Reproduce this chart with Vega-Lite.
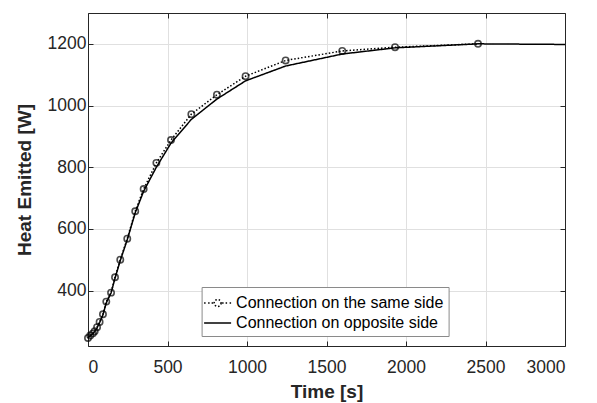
{
  "$schema": "https://vega.github.io/schema/vega-lite/v6.json",
  "width": 477,
  "height": 333,
  "autosize": "none",
  "padding": {"left": 88, "top": 13, "right": 32, "bottom": 57},
  "background": "white",
  "config": {
    "view": {"stroke": null},
    "font": "Liberation Sans",
    "axis": {
      "domainColor": "#262626",
      "domainWidth": 1,
      "tickColor": "#262626",
      "tickSize": -5,
      "tickWidth": 1,
      "gridColor": "#e0e0e0",
      "gridWidth": 1,
      "labelColor": "#262626",
      "labelFont": "Liberation Sans",
      "labelFontSize": 17.5,
      "titleColor": "#262626",
      "titleFont": "Liberation Sans",
      "titleFontSize": 19,
      "titleFontWeight": "bold",
      "format": "d"
    }
  },
  "data": {
    "values": [
      {"t": 0, "q": 246, "series": "Connection on the same side"},
      {"t": 14, "q": 254, "series": "Connection on the same side"},
      {"t": 31, "q": 261, "series": "Connection on the same side"},
      {"t": 42, "q": 268, "series": "Connection on the same side"},
      {"t": 57, "q": 281, "series": "Connection on the same side"},
      {"t": 73, "q": 298, "series": "Connection on the same side"},
      {"t": 94, "q": 323, "series": "Connection on the same side"},
      {"t": 115, "q": 364, "series": "Connection on the same side"},
      {"t": 145, "q": 393, "series": "Connection on the same side"},
      {"t": 170, "q": 443, "series": "Connection on the same side"},
      {"t": 203, "q": 500, "series": "Connection on the same side"},
      {"t": 247, "q": 568, "series": "Connection on the same side"},
      {"t": 297, "q": 657, "series": "Connection on the same side"},
      {"t": 350, "q": 729, "series": "Connection on the same side"},
      {"t": 430, "q": 814, "series": "Connection on the same side"},
      {"t": 522, "q": 888, "series": "Connection on the same side"},
      {"t": 650, "q": 972, "series": "Connection on the same side"},
      {"t": 811, "q": 1035, "series": "Connection on the same side"},
      {"t": 991, "q": 1095, "series": "Connection on the same side"},
      {"t": 1243, "q": 1146, "series": "Connection on the same side"},
      {"t": 1599, "q": 1177, "series": "Connection on the same side"},
      {"t": 1931, "q": 1189, "series": "Connection on the same side"},
      {"t": 2453, "q": 1200, "series": "Connection on the same side"},
      {"t": 0, "q": 246, "series": "Connection on opposite side"},
      {"t": 14, "q": 253, "series": "Connection on opposite side"},
      {"t": 31, "q": 260, "series": "Connection on opposite side"},
      {"t": 42, "q": 267, "series": "Connection on opposite side"},
      {"t": 57, "q": 279, "series": "Connection on opposite side"},
      {"t": 73, "q": 296, "series": "Connection on opposite side"},
      {"t": 94, "q": 321, "series": "Connection on opposite side"},
      {"t": 115, "q": 360, "series": "Connection on opposite side"},
      {"t": 145, "q": 392, "series": "Connection on opposite side"},
      {"t": 170, "q": 440, "series": "Connection on opposite side"},
      {"t": 203, "q": 497, "series": "Connection on opposite side"},
      {"t": 247, "q": 565, "series": "Connection on opposite side"},
      {"t": 297, "q": 652, "series": "Connection on opposite side"},
      {"t": 350, "q": 722, "series": "Connection on opposite side"},
      {"t": 430, "q": 800, "series": "Connection on opposite side"},
      {"t": 522, "q": 878, "series": "Connection on opposite side"},
      {"t": 650, "q": 955, "series": "Connection on opposite side"},
      {"t": 811, "q": 1021, "series": "Connection on opposite side"},
      {"t": 991, "q": 1080, "series": "Connection on opposite side"},
      {"t": 1243, "q": 1128, "series": "Connection on opposite side"},
      {"t": 1599, "q": 1167, "series": "Connection on opposite side"},
      {"t": 1931, "q": 1187, "series": "Connection on opposite side"},
      {"t": 2453, "q": 1200, "series": "Connection on opposite side"},
      {"t": 3000, "q": 1198, "series": "Connection on opposite side"}
    ]
  },
  "layer": [
    {
      "mark": {"type": "line", "color": "black", "strokeWidth": 1.5},
      "encoding": {
        "x": {
          "field": "t", "type": "quantitative",
          "scale": {"domain": [0, 3000], "nice": false, "zero": false},
          "axis": {"title": "Time [s]", "values": [0, 500, 1000, 1500, 2000, 2500, 3000], "labelPadding": 17, "titlePadding": 7, "grid": true}
        },
        "y": {
          "field": "q", "type": "quantitative",
          "scale": {"domain": [220, 1300], "nice": false, "zero": false},
          "axis": {"title": "Heat Emitted [W]", "values": [400, 600, 800, 1000, 1200], "labelPadding": 7, "titlePadding": 13, "grid": true}
        },
        "strokeDash": {
          "field": "series", "type": "nominal",
          "scale": {
            "domain": ["Connection on the same side", "Connection on opposite side"],
            "range": [[1.5, 2], [1, 0]]
          },
          "legend": {
            "title": null,
            "orient": "none",
            "legendX": 113.6,
            "legendY": 274,
            "fillColor": "white",
            "strokeColor": "#8a8a8a",
            "padding": 5,
            "symbolSize": 400,
            "symbolStrokeWidth": 1.5,
            "symbolStrokeColor": "black",
            "labelFont": "Liberation Sans",
            "labelFontSize": 16,
            "labelColor": "black",
            "labelOffset": 7.5,
            "labelLimit": 0,
            "rowPadding": 1,
            "encoding": {
              "symbols": {
                "shape": {
                  "condition": {
                    "test": "datum.value === 'Connection on the same side'",
                    "value": "M-1.35,0H-1.2M-0.95,0H-0.8M-0.6,0H-0.45M0.45,0H0.6M0.8,0H0.95M1.2,0H1.35M0.35,0L0.323,0.134L0.247,0.247L0.134,0.323L0,0.35L-0.134,0.323L-0.247,0.247L-0.323,0.134L-0.35,0L-0.323,-0.134L-0.247,-0.247L-0.134,-0.323L0,-0.35L0.134,-0.323L0.247,-0.247L0.323,-0.134Z"
                  },
                  "value": "M-1.35,0H1.35"
                },
                "strokeDash": {"value": [1, 0]},
                "fill": {"value": "transparent"},
                "stroke": {"value": "black"},
                "strokeWidth": {"value": 1.5}
              }
            }
          }
        }
      }
    },
    {
      "transform": [{"filter": "datum.series === 'Connection on the same side'"}],
      "mark": {"type": "point", "shape": "circle", "filled": false, "color": "black", "size": 40, "strokeWidth": 1.6},
      "encoding": {
        "x": {
          "field": "t", "type": "quantitative",
          "axis": {"orient": "top", "labels": false, "title": null, "grid": false, "values": [0, 500, 1000, 1500, 2000, 2500, 3000]}
        },
        "y": {
          "field": "q", "type": "quantitative",
          "axis": {"orient": "right", "labels": false, "title": null, "grid": false, "values": [400, 600, 800, 1000, 1200]}
        }
      }
    }
  ],
  "resolve": {"axis": {"x": "independent", "y": "independent"}}
}
